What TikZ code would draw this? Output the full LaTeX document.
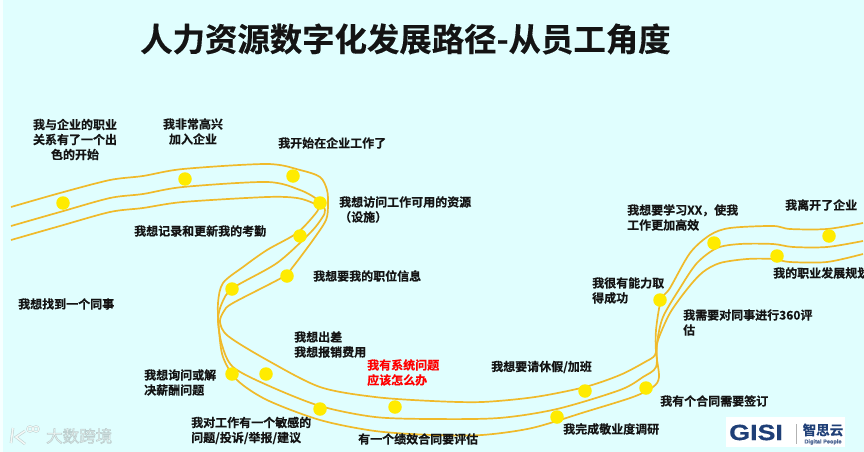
\documentclass[tikz,border=0pt]{standalone}
\usepackage{fontspec}
\setmainfont{Noto Sans CJK SC}[BoldFont={* Bold},BoldFeatures={FakeBold=0.35}]
\setsansfont{Liberation Sans}[BoldFeatures={FakeBold=0.6}]
\definecolor{bgc}{HTML}{E0FEFE}
\definecolor{road}{HTML}{F0BA2A}
\definecolor{dotc}{HTML}{FFEB00}
\definecolor{gisi}{HTML}{1F3F77}
\definecolor{wm}{HTML}{F4F8F6}
\definecolor{wmedge}{HTML}{BCCFCF}
\tikzset{
  lab/.style={font=\bfseries\fontsize{12}{15}\selectfont,text=black!92,inner sep=0pt,align=left,anchor=west},
  labc/.style={lab,align=center,anchor=center},
  road/.style={draw=road,line width=1.7pt,smooth,tension=0.5},
  stop/.style={circle,fill=dotc,draw=none,minimum size=13.5pt,inner sep=0pt}
}
\begin{document}
\begin{tikzpicture}[x=1pt,y=-1pt]
\useasboundingbox (0,0) rectangle (864,452);
\fill[bgc] (0,0) rectangle (864,452);
\fill[white!70!bgc] (0,0) rectangle (3,452);
\node[lab,font=\bfseries\fontsize{32.4}{36}\selectfont] (title) at (140,39) {人力资源数字化发展路径-从员工角度};
% roads
\draw[road] plot coordinates {(11,207)(60,193)(110,180)(143,176)(183,169)(267,164)(300,170)(320,177)(327,190)(328,205)(326,220)(313,240)(292,268)(283,277)(233,303)(224,311)(220,322)(228,336)(267,360)(320,387)(375,397)(432,401)(482,402)(535,397)(585,387)(620,375)(645,362)(655,355)(658,340)(670,313)(688,288)(703,272)(720,263)(747,259)(773,259)(790,262)(827,262)(863,254)};
\draw[road] plot coordinates {(11,226)(60,212)(110,198)(143,194)(183,187)(267,182)(300,190)(318,200)(325,210)(322,218)(310,233)(277,263)(233,288)(222,303)(218,320)(222,345)(233,367)(267,385)(320,406)(375,417)(432,419)(499,418)(557,409)(620,390)(643,377)(656,367)(657,343)(663,317)(680,288)(697,263)(717,248)(740,244)(773,244)(793,247)(827,247)(863,241)};
\draw[road] plot coordinates {(11,240)(60,226)(110,212)(143,208)(183,202)(267,197)(297,198)(313,203)(318,207)(316,213)(297,233)(267,250)(243,267)(223,283)(218,303)(219,330)(223,357)(237,380)(267,400)(320,420)(375,431)(432,435)(482,435)(532,428)(585,412)(633,397)(653,387)(659,377)(656,352)(656,330)(661,300)(670,288)(690,253)(710,235)(730,228)(773,226)(790,229)(827,229)(863,223)};
% stops
\foreach \n/\p in {a/{63,203},b/{185,179},c/{293,176},d/{320,203},e/{300,236},f/{287,276},g/{232,289},h/{232,374},i/{266,374},j/{320,409},k/{395,407},l/{557,417},m/{585,391},n/{646,388},o/{660,300},p/{714,243},q/{777,256},r/{829,236}}
  \node[stop] (s\n) at (\p) {};
% labels
\node[labc] (t1) at (75,139.5) {我与企业的职业\\关系有了一个出\\色的开始};
\node[labc] (t2) at (193,131.5) {我非常高兴\\加入企业};
\node[lab] (t3) at (278,143) {我开始在企业工作了};
\node[lab] (t4) at (339,209.5) {我想访问工作可用的资源\\（设施）};
\node[lab] (t5) at (134,231) {我想记录和更新我的考勤};
\node[lab] (t6) at (313,276) {我想要我的职位信息};
\node[lab] (t7) at (18,304) {我想找到一个同事};
\node[lab] (t8) at (294,344.5) {我想出差\\我想报销费用};
\node[lab,text=red] (t9) at (367,372.5) {我有系统问题\\应该怎么办};
\node[lab] (t10) at (144,382.5) {我想询问或解\\决薪酬问题};
\node[lab] (t11) at (191,430.5) {我对工作有一个敏感的\\问题/投诉/举报/建议};
\node[lab] (t12) at (358,439) {有一个绩效合同要评估};
\node[lab] (t13) at (491,367) {我想要请休假/加班};
\node[lab] (t14) at (563,429) {我完成敬业度调研};
\node[lab] (t15) at (660,401) {我有个合同需要签订};
\node[lab] (t16) at (683,322.5) {我需要对同事进行360评\\估};
\node[lab] (t17) at (592,290.5) {我很有能力取\\得成功};
\node[lab] (t18) at (627,217.5) {我想要学习XX，使我\\工作更加高效};
\node[lab] (t19) at (785,205) {我离开了企业};
\node[lab] (t20) at (773,273) {我的职业发展规划};
% watermark
\node[anchor=west,inner sep=0pt,text=wm,font=\fontsize{16.5}{17}\selectfont] (wmt) at (46,436) {\special{pdf:code 2 Tr 0.6 w 0.74 0.81 0.81 RG}大数跨境\special{pdf:code 0 Tr}};
\draw[wmedge,line width=2.6pt] (13,428) -- (11,443) (25,431) -- (16,437) -- (25,444);
\draw[wm,line width=1.5pt] (13,428) -- (11,443) (25,431) -- (16,437) -- (25,444);
\draw[wmedge,line width=1.8pt] (30,429) circle (2.8) (36,429) circle (2.8);
\draw[wm,line width=.9pt] (30,429) circle (2.8) (36,429) circle (2.8);
% logo
\fill[white] (726,417) rectangle (845,447);
\node[anchor=west,inner sep=0pt,text=gisi,font=\sffamily\bfseries\fontsize{22}{23}\selectfont] (gisi) at (729,432.5) {\scalebox{1.22}[1]{GISI}};
\draw[black!30,line width=.6pt] (796,424) -- (796,444);
\node[anchor=center,inner sep=0pt,text=gisi,font=\bfseries\fontsize{13.5}{14}\selectfont] (zsy) at (823,430) {智思云};
\node[anchor=center,inner sep=0pt,text=gisi!80,font=\sffamily\bfseries\fontsize{5.6}{6}\selectfont] (dp) at (823,442) {Digital People};
\end{tikzpicture}
\end{document}
